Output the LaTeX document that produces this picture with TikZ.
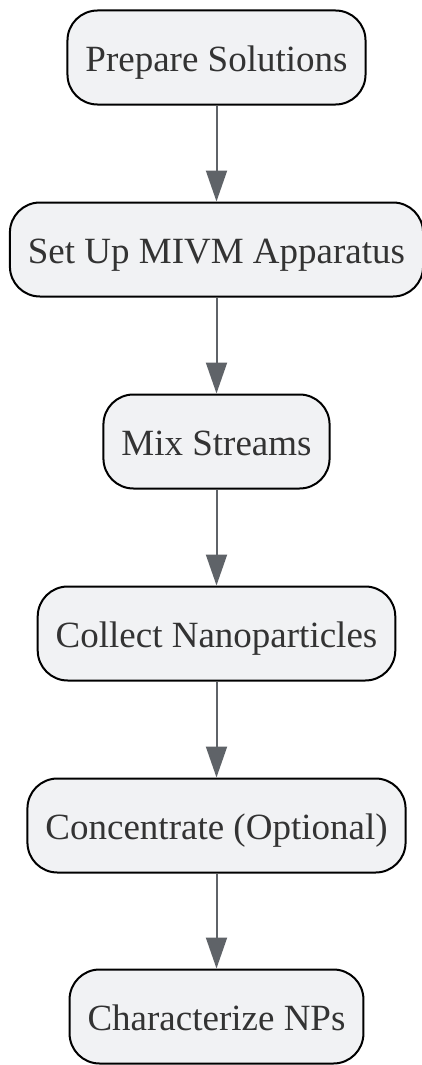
\documentclass[tikz,border=0pt]{standalone}
\usepackage{fontspec}
\setmainfont{Liberation Serif}
\usepackage{xcolor}
\usepackage{tikz}
\usetikzlibrary{arrows.meta,positioning}

\definecolor{stepfill}{HTML}{F1F2F4}
\definecolor{steptext}{HTML}{333333}
\definecolor{flowgray}{HTML}{5F6368}

\begin{document}
\begin{tikzpicture}[
    x=1pt, y=-1pt,
    stepbox/.style={rectangle, draw=black, line width=2pt, fill=stepfill, rounded corners=30pt, minimum height=94pt, inner xsep=18pt, text height=30pt, text depth=3pt, align=center, text=steptext, font=\fontsize{37}{44}\selectfont},
    flow/.style={-{Triangle[length=31pt,width=21pt]}, draw=flowgray, fill=flowgray, line width=2pt}
]
    \useasboundingbox (0,0) rectangle (422,1065);

    % Process steps
    \node[stepbox] (prep) at (216.5,57.5) {Prepare Solutions};
    \node[stepbox] (setup) at (216.5,249.5) {Set Up MIVM Apparatus};
    \node[stepbox] (mix) at (216.5,441.5) {Mix Streams};
    \node[stepbox] (collect) at (216.5,633.5) {Collect Nanoparticles};
    \node[stepbox] (conc) at (216.5,825.5) {Concentrate (Optional)};
    \node[stepbox] (char) at (216.5,1016.5) {Characterize NPs};

    % Flow
    \draw[flow] (prep) -- (setup);
    \draw[flow] (setup) -- (mix);
    \draw[flow] (mix) -- (collect);
    \draw[flow] (collect) -- (conc);
    \draw[flow] (conc) -- (char);
\end{tikzpicture}
\end{document}
